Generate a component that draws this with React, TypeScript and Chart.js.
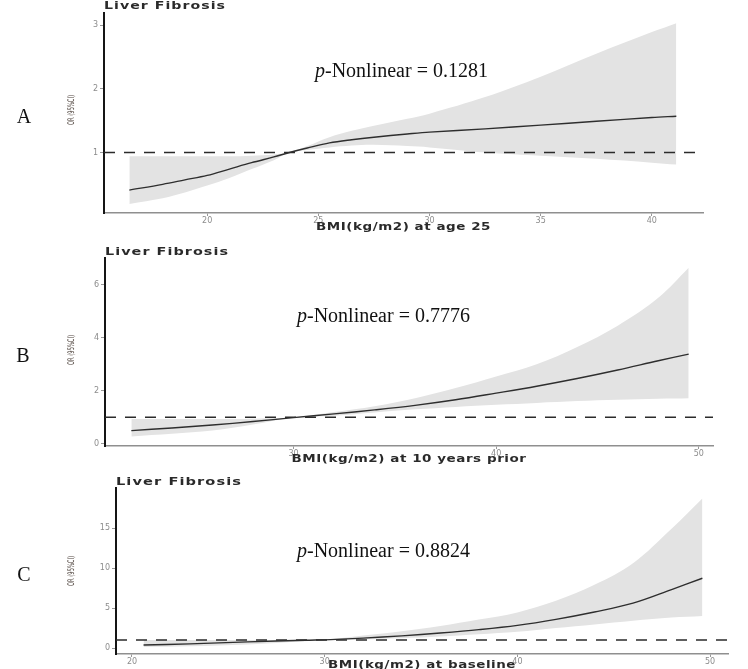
import React, { useEffect, useRef } from "react";
import { Chart, registerables } from "chart.js";
Chart.register(...registerables);

// ---------- Data ----------
// Panel A: BMI at age 25
const bmiA = [16.5, 18, 19, 20, 21, 22, 23, 23.7, 24.5, 25.5, 26.5, 27.5, 29, 30, 32.5, 35, 37.5, 40, 41.1];
const orA = [0.41, 0.5, 0.57, 0.64, 0.74, 0.84, 0.93, 1.0, 1.07, 1.15, 1.2, 1.24, 1.29, 1.32, 1.37, 1.43, 1.49, 1.55, 1.57];
const upperA = [0.94, 0.94, 0.94, 0.94, 0.94, 0.95, 0.97, 1.0, 1.1, 1.24, 1.34, 1.42, 1.53, 1.61, 1.87, 2.19, 2.55, 2.89, 3.03];
const lowerA = [0.19, 0.28, 0.37, 0.48, 0.6, 0.74, 0.88, 1.0, 1.04, 1.08, 1.11, 1.12, 1.1, 1.08, 1.0, 0.95, 0.9, 0.84, 0.81];
const xTicksA = [20, 25, 30, 35, 40];
const yTicksA = [1, 2, 3];

// Panel B: BMI 10 years prior
const bmiB = [22, 24, 26, 28, 30, 32, 34, 36, 38, 40, 42, 44, 46, 48, 49.5];
const orB = [0.5, 0.6, 0.71, 0.84, 0.99, 1.13, 1.28, 1.45, 1.66, 1.91, 2.17, 2.46, 2.78, 3.13, 3.38];
const upperB = [0.94, 0.94, 0.94, 0.95, 1.0, 1.2, 1.42, 1.72, 2.1, 2.54, 3.0, 3.65, 4.45, 5.5, 6.63];
const lowerB = [0.28, 0.38, 0.5, 0.73, 0.98, 1.06, 1.18, 1.3, 1.39, 1.47, 1.54, 1.61, 1.66, 1.7, 1.72];
const xTicksB = [30, 40, 50];
const yTicksB = [0, 2, 4, 6];

// Panel C: BMI at baseline
const bmiC = [20.6, 23, 26, 29, 30.3, 32, 34, 36, 38, 40, 42, 44, 46, 48, 49.6];
const orC = [0.37, 0.52, 0.76, 0.97, 1.05, 1.24, 1.52, 1.88, 2.3, 2.83, 3.58, 4.5, 5.6, 7.3, 8.72];
const upperC = [1.0, 1.0, 1.0, 1.02, 1.1, 1.55, 2.1, 2.75, 3.55, 4.45, 5.9, 7.9, 10.6, 14.9, 18.7];
const lowerC = [0.12, 0.22, 0.45, 0.85, 1.0, 1.08, 1.22, 1.44, 1.72, 2.03, 2.5, 2.95, 3.4, 3.8, 4.0];
const xTicksC = [20, 30, 40, 50];
const yTicksC = [0, 5, 10, 15];

const refOR = 1;
const panelLetters = ["A", "B", "C"];
const pNonlinear = ["0.1281", "0.7776", "0.8824"];
const outcomeTitle = "Liver Fibrosis";
const yTitle = "OR (95%CI)";
const xTitles = ["BMI(kg/m2) at age 25", "BMI(kg/m2) at 10 years prior", "BMI(kg/m2) at baseline"];

// ---------- Layout ----------
const W = 748;
const panels = [
  {
    top: 0, height: 238, pad: { left: 64, right: 45, top: 13, bottom: 15 },
    bmi: bmiA, or: orA, upper: upperA, lower: lowerA,
    xMin: 15.36, xMax: 42.3, yMin: 0.05, yMax: 3.19, xTicks: xTicksA, yTicks: yTicksA,
    letter: panelLetters[0], p: pNonlinear[0], xTitle: xTitles[0],
    letterPos: [24, 123], titlePos: [104, 6], titleW: 122, pPos: [315, 77],
    yTitlePos: [72, 110], xTitleY: 227, xTitleW: 175,
  },
  {
    top: 232, height: 239, pad: { left: 65, right: 35, top: 26, bottom: 15 },
    bmi: bmiB, or: orB, upper: upperB, lower: lowerB,
    xMin: 20.7, xMax: 50.7, yMin: -0.08, yMax: 7.0, xTicks: xTicksB, yTicks: yTicksB,
    letter: panelLetters[1], p: pNonlinear[1], xTitle: xTitles[1],
    letterPos: [23, 130], titlePos: [105, 20], titleW: 124, pPos: [297, 90],
    yTitlePos: [72, 118], xTitleY: 227, xTitleW: 235,
  },
  {
    top: 465, height: 204, pad: { left: 76, right: 20, top: 23, bottom: 5 },
    bmi: bmiC, or: orC, upper: upperC, lower: lowerC,
    xMin: 19.17, xMax: 50.93, yMin: -0.75, yMax: 20, xTicks: xTicksC, yTicks: yTicksC,
    letter: panelLetters[2], p: pNonlinear[2], xTitle: xTitles[2],
    letterPos: [24, 116], titlePos: [116, 17], titleW: 126, pPos: [297, 92],
    yTitlePos: [72, 106], xTitleY: 200, xTitleW: 188,
  },
];

const SANS = '"DejaVu Sans", sans-serif';
const SERIF = '"Liberation Serif", "Times New Roman", serif';

function drawFit(ctx: CanvasRenderingContext2D, text: string, x: number, y: number, targetW: number,
  font: string, color: string, align: CanvasTextAlign, spacing: number) {
  ctx.save();
  ctx.font = font;
  ctx.fillStyle = color;
  ctx.textBaseline = "middle";
  ctx.textAlign = align;
  (ctx as any).letterSpacing = spacing + "px";
  const w = ctx.measureText(text).width;
  ctx.translate(x, y);
  ctx.scale(targetW / w, 1);
  ctx.fillText(text, 0, 0);
  ctx.restore();
}

function makePlugin(p: any) {
  return {
    id: "panelText",
    afterDraw(chart: any) {
      const ctx: CanvasRenderingContext2D = chart.ctx;
      const ca = chart.chartArea;
      // Panel letter
      ctx.save();
      ctx.font = `20px ${SERIF}`;
      ctx.fillStyle = "#111";
      ctx.textAlign = "center";
      ctx.textBaseline = "alphabetic";
      ctx.fillText(p.letter, p.letterPos[0], p.letterPos[1]);
      // p-Nonlinear
      ctx.textAlign = "left";
      ctx.font = `italic 20px ${SERIF}`;
      ctx.fillText("p", p.pPos[0], p.pPos[1]);
      const wp = ctx.measureText("p").width;
      ctx.font = `20px ${SERIF}`;
      ctx.fillText("-Nonlinear = " + p.p, p.pPos[0] + wp, p.pPos[1]);
      ctx.restore();
      // Outcome title
      drawFit(ctx, outcomeTitle, p.titlePos[0], p.titlePos[1], p.titleW, `bold 11px ${SANS}`, "#2a2a2a", "left", 0.8);
      // X title
      drawFit(ctx, p.xTitle, (ca.left + ca.right) / 2, p.xTitleY, p.xTitleW, `bold 10px ${SANS}`, "#2a2a2a", "center", 0.4);
      // Y title (rotated)
      ctx.save();
      ctx.translate(p.yTitlePos[0], p.yTitlePos[1]);
      ctx.rotate(-Math.PI / 2);
      ctx.font = `7px ${SANS}`;
      ctx.fillStyle = "#4a3f38";
      ctx.textAlign = "center";
      ctx.textBaseline = "middle";
      const tw = ctx.measureText(yTitle).width;
      ctx.scale(30 / tw, 1.3);
      ctx.fillText(yTitle, 0, 0);
      ctx.restore();
    },
  };
}

function makeConfig(p: any): any {
  const pts = (xs: number[], ys: number[]) => xs.map((x, i) => ({ x, y: ys[i] }));
  const tickFont = { family: SANS, size: 8 };
  return {
    type: "line",
    data: {
      datasets: [
        {
          data: pts(p.bmi, p.upper), borderWidth: 0, borderColor: "rgba(0,0,0,0)", pointRadius: 0,
          fill: "+1", backgroundColor: "#e3e3e3", tension: 0.35, order: 3,
        },
        {
          data: pts(p.bmi, p.lower), borderWidth: 0, borderColor: "rgba(0,0,0,0)", pointRadius: 0,
          fill: false, tension: 0.35, order: 2,
        },
        {
          data: [{ x: p.xMin, y: refOR }, { x: p.xMax, y: refOR }], borderColor: "#2b2b2b", borderWidth: 1.4,
          borderDash: [11, 9], pointRadius: 0, fill: false, order: 1,
        },
        {
          data: pts(p.bmi, p.or), borderColor: "#2e2e2e", borderWidth: 1.4, pointRadius: 0,
          fill: false, tension: 0.35, order: 0,
        },
      ],
    },
    options: {
      responsive: false,
      animation: false,
      devicePixelRatio: 1,
      layout: { padding: p.pad },
      plugins: { legend: { display: false }, tooltip: { enabled: false }, title: { display: false },
        filler: { drawTime: "beforeDatasetsDraw" } },
      scales: {
        x: {
          type: "linear", min: p.xMin, max: p.xMax,
          afterBuildTicks: (s: any) => { s.ticks = p.xTicks.map((v: number) => ({ value: v })); },
          afterFit: (s: any) => { s.height = 10; },
          grid: { display: true, drawOnChartArea: false, drawTicks: true, tickLength: 3, tickColor: "#999", color: "#999" },
          border: { display: true, color: "#8f8f8f", width: 1.5 },
          ticks: { font: tickFont, color: "#8c8c8c", padding: 0, maxRotation: 0, autoSkip: false },
        },
        y: {
          type: "linear", min: p.yMin, max: p.yMax,
          afterBuildTicks: (s: any) => { s.ticks = p.yTicks.map((v: number) => ({ value: v })); },
          afterFit: (s: any) => { s.width = 40; },
          grid: { display: true, drawOnChartArea: false, drawTicks: true, tickLength: 4, tickColor: "#999", color: "#999" },
          border: { display: true, color: "#151515", width: 2 },
          ticks: { font: tickFont, color: "#8c8c8c", padding: 2, autoSkip: false },
        },
      },
    },
    plugins: [makePlugin(p)],
  };
}

function Panel({ p }: { p: any }) {
  const ref = useRef<HTMLCanvasElement>(null);
  useEffect(() => {
    if (!ref.current) return;
    const chart = new Chart(ref.current, makeConfig(p));
    return () => chart.destroy();
  }, [p]);
  return (
    <canvas
      ref={ref}
      width={W}
      height={p.height}
      style={{ position: "absolute", left: 0, top: p.top, width: W, height: p.height, display: "block" }}
    />
  );
}

export default function App() {
  return (
    <div style={{ position: "absolute", left: 0, top: 0, width: W, height: 669, background: "#fff", overflow: "hidden" }}>
      {panels.map((p, i) => (
        <Panel key={i} p={p} />
      ))}
    </div>
  );
}
